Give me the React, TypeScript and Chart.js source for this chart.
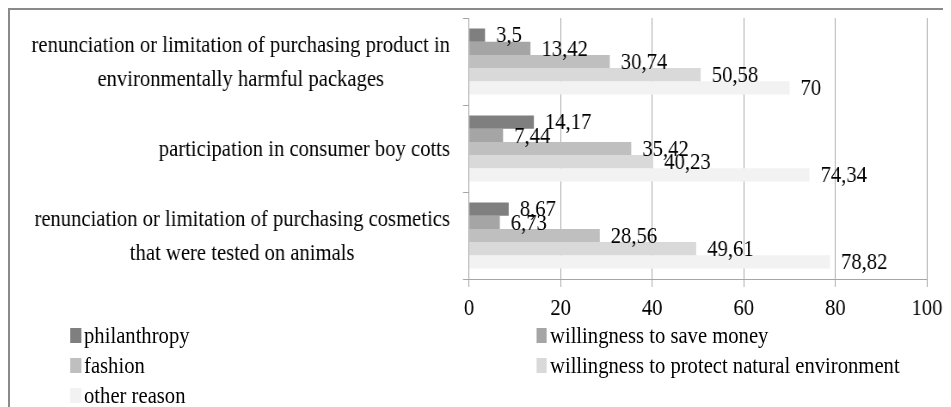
import React, { useEffect, useRef } from "react";
import { Chart, registerables } from "chart.js";

Chart.register(...registerables);

// ---------- data ----------
const categories: string[][] = [
  ["renunciation or limitation of purchasing product in", "environmentally harmful packages"],
  ["participation in consumer boy cotts"],
  ["renunciation or limitation of purchasing cosmetics", "that were tested on animals"],
];
const seriesNames = [
  "philanthropy",
  "willingness to save money",
  "fashion",
  "willingness to protect natural environment",
  "other reason",
];
const philanthropy = [3.5, 14.17, 8.67];
const saveMoney = [13.42, 7.44, 6.73];
const fashion = [30.74, 35.42, 28.56];
const protectEnvironment = [50.58, 40.23, 49.61];
const otherReason = [70, 74.34, 78.82];
const xTicks = [0, 20, 40, 60, 80, 100];

// ---------- styles ----------
const palette = ["#7f7f7f", "#a5a5a5", "#bfbfbf", "#d9d9d9", "#f2f2f2"];
const FONT = "'Liberation Serif', 'Times New Roman', serif";
const FS = 24;
const K = 0.86; // horizontal condensing of the whole figure
const W = 1094;
const H = 315;
const PLOT_LEFT = 533.7;
const PLOT_RIGHT = 1066.3;
const LABEL_RIGHT = 511.6;
const GRID = "#a6a6a6";

const allSeries = [philanthropy, saveMoney, fashion, protectEnvironment, otherReason];

const fmt = (v: number) => String(v).replace(".", ",");

const valueLabels = {
  id: "valueLabels",
  afterDatasetsDraw(chart: any) {
    const ctx = chart.ctx;
    ctx.save();
    ctx.font = `${FS}px ${FONT}`;
    ctx.fillStyle = "#000";
    ctx.textAlign = "left";
    ctx.textBaseline = "middle";
    chart.data.datasets.forEach((ds: any, di: number) => {
      const meta = chart.getDatasetMeta(di);
      meta.data.forEach((bar: any, i: number) => {
        ctx.fillText(fmt(ds.data[i]), bar.x + 12.8, bar.y + 1);
      });
    });
    ctx.restore();
  },
};

const categoryLabels = {
  id: "categoryLabels",
  afterDraw(chart: any) {
    const ctx = chart.ctx;
    const y = chart.scales.y;
    ctx.save();
    ctx.font = `${FS}px ${FONT}`;
    ctx.fillStyle = "#000";
    ctx.textAlign = "center";
    ctx.textBaseline = "middle";
    categories.forEach((lines, i) => {
      const cy = y.getPixelForValue(i);
      const maxW = Math.max(...lines.map((l) => ctx.measureText(l).width));
      const cx = LABEL_RIGHT - maxW / 2;
      const lh = 34;
      lines.forEach((l, j) => {
        ctx.fillText(l, cx, cy + (j - (lines.length - 1) / 2) * lh + 1);
      });
    });
    ctx.restore();
  },
};

export default function App() {
  const ref = useRef<HTMLCanvasElement>(null);

  useEffect(() => {
    if (!ref.current) return;
    const chart = new Chart(ref.current, {
      type: "bar",
      data: {
        labels: categories.map((c) => c.join(" ")),
        datasets: allSeries.map((d, i) => ({
          label: seriesNames[i],
          data: d,
          backgroundColor: palette[i],
          borderWidth: 0,
          categoryPercentage: 0.76,
          barPercentage: 1,
        })),
      },
      options: {
        indexAxis: "y",
        responsive: false,
        animation: false,
        devicePixelRatio: 1,
        layout: { padding: { top: 8, right: W - PLOT_RIGHT, left: 0, bottom: 0 } },
        plugins: { legend: { display: false }, tooltip: { enabled: false } },
        scales: {
          x: {
            min: xTicks[0],
            max: xTicks[xTicks.length - 1],
            ticks: {
              stepSize: xTicks[1] - xTicks[0],
              padding: 7,
              color: "#000",
              font: { family: FONT, size: FS },
            },
            grid: { color: GRID, tickLength: 8, drawTicks: true },
            border: { color: GRID },
            afterFit(s: any) {
              s.height = 46;
            },
          },
          y: {
            ticks: { display: false },
            grid: { drawOnChartArea: false, tickLength: 7, color: GRID, offset: true },
            border: { color: GRID },
            afterFit(s: any) {
              s.width = PLOT_LEFT;
            },
          },
        },
      },
      plugins: [valueLabels, categoryLabels],
    } as any);
    return () => chart.destroy();
  }, []);

  const rowCenters = [325, 355, 385];
  const colLefts = [69.8, 611.6];

  return (
    <div
      style={{
        width: 943,
        height: 399,
        boxSizing: "border-box",
        borderTop: "2px solid #8a8a8a",
        borderLeft: "2px solid #8a8a8a",
        overflow: "hidden",
        background: "#fff",
      }}
    >
      <div
        style={{
          position: "relative",
          width: W,
          height: 397,
          transform: `scaleX(${K})`,
          transformOrigin: "0 0",
        }}
      >
        <canvas ref={ref} width={W} height={H} style={{ display: "block", width: W, height: H }} />
        {seriesNames.map((name, i) => (
          <div
            key={name}
            style={{
              position: "absolute",
              left: colLefts[i % 2],
              top: rowCenters[Math.floor(i / 2)] - 15,
              height: 30,
              display: "flex",
              alignItems: "center",
              whiteSpace: "nowrap",
              fontFamily: FONT,
              fontSize: FS,
              lineHeight: "30px",
              color: "#000",
            }}
          >
            <span
              style={{
                display: "inline-block",
                width: 12.8,
                height: 15,
                background: palette[i],
                marginRight: 3.5,
              }}
            />
            <span>{name}</span>
          </div>
        ))}
      </div>
    </div>
  );
}
